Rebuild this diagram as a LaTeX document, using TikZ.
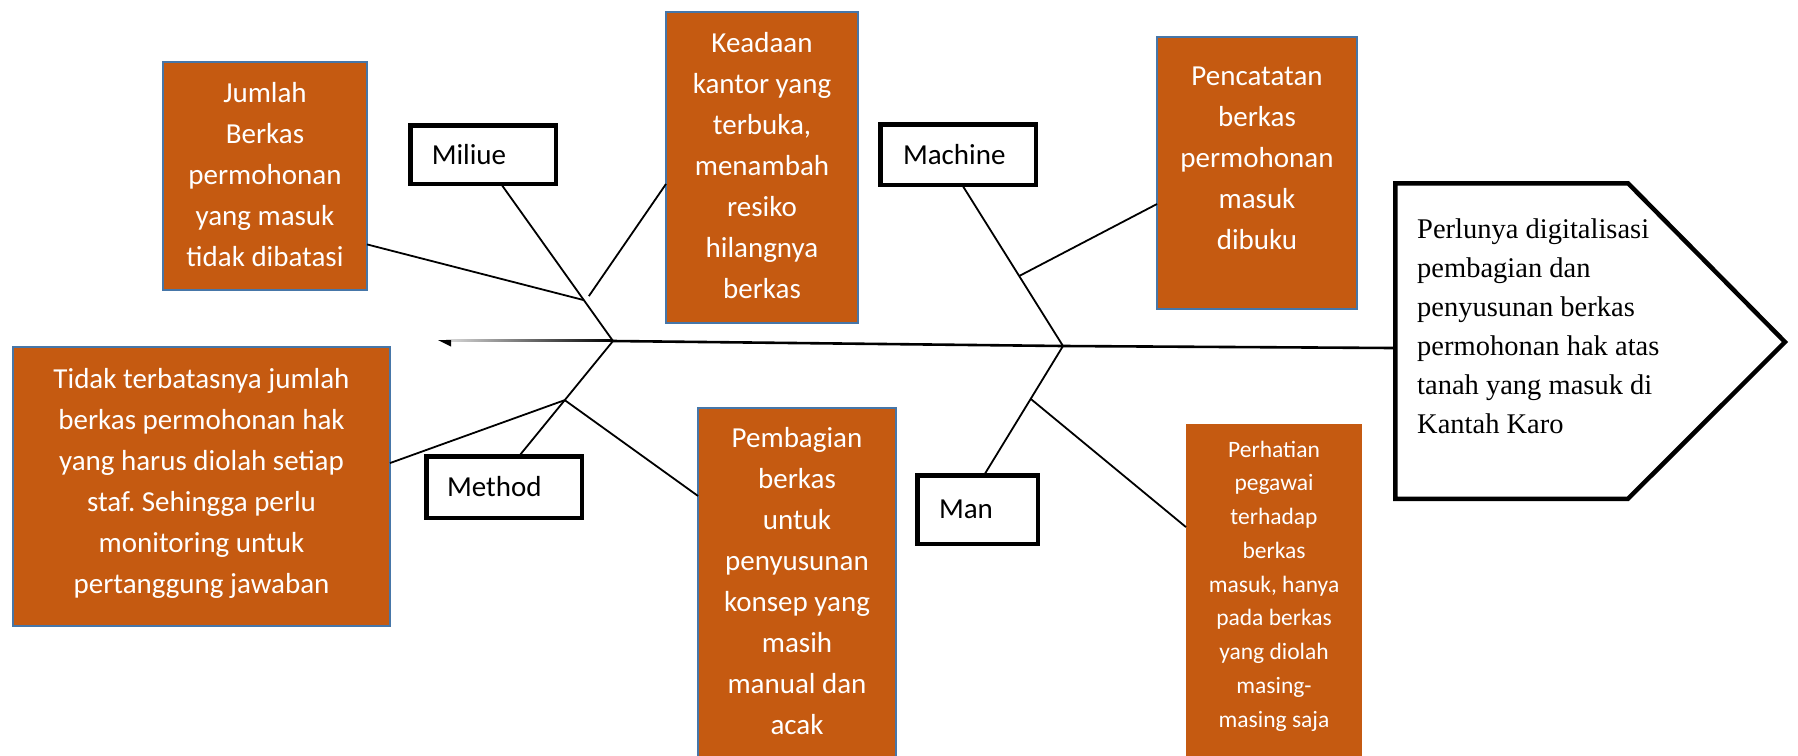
\documentclass[tikz,border=0pt]{standalone}
\usepackage{fontspec}
\setmainfont{Carlito}
\newfontfamily\tnrfont{Liberation Serif}
\usetikzlibrary{calc}
\definecolor{orng}{RGB}{197,90,17}
\definecolor{bblue}{RGB}{70,118,168}
\frenchspacing
\begin{document}
\begin{tikzpicture}[x=1pt,y=-1pt,
  obox/.style={draw=bblue, line width=2pt, fill=orng, inner sep=0pt, outer sep=0pt},
  oboxplain/.style={fill=orng, inner sep=0pt, outer sep=0pt},
  otxt/.style={text=white, align=center, inner sep=0pt, anchor=north, font=\fontsize{29}{41}\selectfont},
  lbl/.style={draw=black, line width=4.5pt, fill=white, inner ysep=0pt, outer sep=0pt, align=left, font=\fontsize{29}{35}\selectfont},
  bone/.style={line width=1.8pt},
  spine/.style={line width=2.6pt},
]
\useasboundingbox (0,0) rectangle (1798,755);
\clip (0,0) rectangle (1798,755);

% cause boxes
\node[obox, minimum width=204pt, minimum height=228pt] (b1) at (265,176) {};
\node[obox, minimum width=192pt, minimum height=311pt] (b2) at (762,167.5) {};
\node[obox, minimum width=200pt, minimum height=272pt] (b3) at (1257,173) {};
\node[obox, minimum width=377pt, minimum height=279pt] (b4) at (201.5,486.5) {};
\node[obox, minimum width=198pt, minimum height=362pt] (b5) at (797,589) {};
\node[oboxplain, minimum width=176pt, minimum height=346pt] (b6) at (1274,597) {};

\node[otxt] (t1) at (265,73.3) {\strut Jumlah\\Berkas\\permohonan\\yang masuk\\tidak dibatasi};
\node[otxt] (t2) at (762,23.3) {\strut Keadaan\\kantor yang\\terbuka,\\menambah\\resiko\\hilangnya\\berkas};
\node[otxt] (t3) at (1257,56.3) {\strut Pencatatan\\berkas\\permohonan\\masuk\\dibuku};
\node[otxt] (t4) at (201.5,359.3) {\strut Tidak terbatasnya jumlah\\berkas permohonan hak\\yang harus diolah setiap\\staf. Sehingga perlu\\monitoring untuk\\pertanggung jawaban};
\node[otxt] (t5) at (797,418.3) {\strut Pembagian\\berkas\\untuk\\penyusunan\\konsep yang\\masih\\manual dan\\acak};
\node[otxt, font=\fontsize{23.5}{33.75}\selectfont] (t6) at (1274,433.4) {\strut Perhatian\\pegawai\\terhadap\\berkas\\masuk, hanya\\pada berkas\\yang diolah\\masing-\\masing saja};

% category labels
\node[lbl, inner xsep=21.5pt, text width=102.5pt, minimum height=58.5pt] (miliue) at (483,154.5) {Miliue};
\node[lbl, inner xsep=22.75pt, text width=110pt, minimum height=60.5pt] (machine) at (958,154.5) {Machine};
\node[lbl, inner xsep=20.75pt, text width=114pt, minimum height=61.5pt] (method) at (504,487) {Method};
\node[lbl, inner xsep=21.75pt, text width=77pt, minimum height=68.5pt] (man) at (977.5,509.5) {Man};

% effect head
\coordinate (p1) at (1395.25,183.25);
\coordinate (p2) at (1628,183.25);
\coordinate (p3) at (1785,342);
\coordinate (p4) at (1628,498.75);
\coordinate (p5) at (1395.25,498.75);
\draw[line width=4.5pt, line join=miter, fill=white] (p1) -- (p2) -- (p3) -- (p4) -- (p5) -- cycle;
\node[anchor=north west, inner sep=0pt, align=left, font=\tnrfont\fontsize{28.5}{39}\selectfont] (goal) at (1417,210.7)
  {\strut Perlunya digitalisasi\\pembagian dan\\penyusunan berkas\\permohonan hak atas\\tanah yang masuk di\\Kantah Karo};

% bone coordinates
\coordinate (tip) at (438,340);
\coordinate (J1) at (613,341);
\coordinate (J2) at (1063,346);
\coordinate (gW) at (1393,348);
\coordinate (mB) at ($(miliue.south west)!0.623!(miliue.south east)$);
\coordinate (mcB) at ($(machine.south west)!0.526!(machine.south east)$);
\coordinate (meT) at ($(method.north west)!0.596!(method.north east)$);
\coordinate (maT) at ($(man.north west)!0.554!(man.north east)$);
\coordinate (B1) at ($(mB)!0.74!(J1)$);
\coordinate (B1k) at ($(B1)+(5,-4)$);
\coordinate (B2) at ($(mcB)!0.566!(J2)$);
\coordinate (B3) at ($(J1)!0.513!(meT)$);
\coordinate (B4) at ($(J2)!0.409!(maT)$);

% spine
\shade[left color=gray!30, right color=black] (446,339.7) rectangle (613,341.3);
\fill (tip) -- (451,340) -- (451,346.5) -- cycle;
\draw[spine] (J1) -- (J2) -- (gW);

% bones
\draw[bone] (mB) -- (J1);
\draw[bone] (mcB) -- (J2);
\draw[bone] (J1) -- (meT);
\draw[bone] (J2) -- (maT);
\draw[bone] ($(b1.south east)!0.2!(b1.north east)$) -- (B1);
\draw[bone] ($(b2.north west)!0.553!(b2.south west)$) -- (B1k);
\draw[bone] ($(b3.north west)!0.614!(b3.south west)$) -- (B2);
\draw[bone] ($(b4.north east)!0.416!(b4.south east)$) -- (B3);
\draw[bone] (B3) -- ($(b5.north west)!0.243!(b5.south west)$);
\draw[bone] (B4) -- ($(b6.north west)!0.298!(b6.south west)$);
\end{tikzpicture}
\end{document}
